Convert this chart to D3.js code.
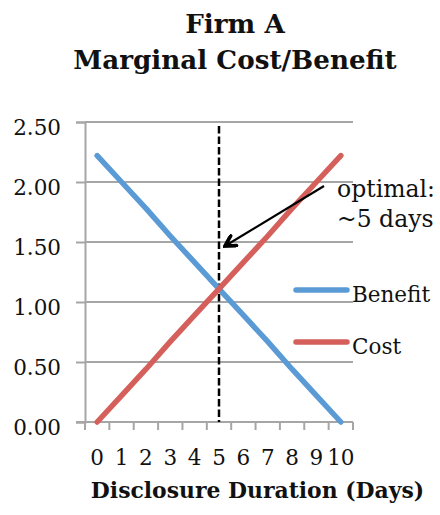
<!DOCTYPE html>
<html>
<head>
<meta charset="utf-8">
<script src="https://cdn.jsdelivr.net/npm/d3@7"></script>
<style>
  html, body { margin: 0; padding: 0; background: #fff; }
  svg { display: block; }
  text { font-family: "DejaVu Serif", "Liberation Serif", serif; fill: #111; }
</style>
</head>
<body>
<svg id="chart" width="440" height="515"></svg>
<script>
const days = ["0","1","2","3","4","5","6","7","8","9","10"];
const benefit = [2.22, 2.00, 1.78, 1.55, 1.33, 1.11, 0.89, 0.67, 0.44, 0.22, 0.00];
const cost    = [0.00, 0.22, 0.44, 0.67, 0.89, 1.11, 1.33, 1.55, 1.78, 2.00, 2.22];
const yTicks  = [0, 0.5, 1.0, 1.5, 2.0, 2.5];
const optimalDay = "5";
const titleLines = ["Firm A", "Marginal Cost/Benefit"];
const xTitle = "Disclosure Duration (Days)";
const annotation = ["optimal:", "~5 days"];
const seriesNames = ["Benefit", "Cost"];

const svg = d3.select("#chart");
const x = d3.scaleBand().domain(days).range([85, 353]);
const y = d3.scaleLinear().domain([0, 2.5]).range([422, 122]);
const gridColor = "#a6a6a6";
const colors = {Benefit: "#5b9bd5", Cost: "#d5605b"};

// title
svg.selectAll("text.title").data(titleLines).enter().append("text")
  .attr("x", 235).attr("y", (d, i) => 33 + i * 36)
  .attr("text-anchor", "middle")
  .attr("font-size", 26.2).attr("font-weight", "bold")
  .text(d => d);

// gridlines
svg.append("g").selectAll("line").data(yTicks.filter(v => v > 0)).enter().append("line")
  .attr("x1", x.range()[0]).attr("x2", x.range()[1])
  .attr("y1", d => y(d)).attr("y2", d => y(d))
  .attr("stroke", gridColor).attr("stroke-width", 2);

// y axis
const yAxis = svg.append("g").attr("transform", `translate(${x.range()[0]},0)`)
  .call(d3.axisLeft(y).tickValues(yTicks).tickFormat(d3.format(".2f")).tickSize(9).tickPadding(15));
yAxis.select(".domain").attr("stroke", gridColor).attr("stroke-width", 2);
yAxis.selectAll(".tick line").attr("stroke", gridColor).attr("stroke-width", 2);
yAxis.selectAll(".tick text").attr("font-size", 21.5).attr("font-family", "DejaVu Serif")
  .attr("fill", "#111").attr("dy", "0.6em");

// x axis
const xAxisG = svg.append("g").attr("transform", `translate(0,${y(0)})`);
xAxisG.append("line").attr("x1", x.range()[0] - 9).attr("x2", x.range()[1])
  .attr("stroke", gridColor).attr("stroke-width", 2);
const bounds = days.map(d => x(d)).concat([x(days[days.length - 1]) + x.bandwidth()]);
xAxisG.selectAll("line.tk").data(bounds).enter().append("line")
  .attr("x1", d => d).attr("x2", d => d).attr("y1", 0).attr("y2", 8)
  .attr("stroke", gridColor).attr("stroke-width", 2);
xAxisG.selectAll("text").data(days).enter().append("text")
  .attr("x", d => x(d) + x.bandwidth() / 2).attr("y", 43)
  .attr("text-anchor", "middle").attr("font-size", 21.5)
  .text(d => d);

// x title
svg.append("text").attr("x", 257.5).attr("y", 498).attr("text-anchor", "middle")
  .attr("font-size", 21.9).attr("font-weight", "bold").text(xTitle);

// optimal dashed line
const ox = x(optimalDay) + x.bandwidth() / 2;
svg.append("line").attr("x1", ox).attr("x2", ox).attr("y1", 126).attr("y2", y(0))
  .attr("stroke", "#000").attr("stroke-width", 2.5).attr("stroke-dasharray", "7.5,3");

// series lines
const line = d3.line().x((d, i) => x(days[i]) + x.bandwidth() / 2).y(d => y(d));
[["Benefit", benefit], ["Cost", cost]].forEach(([name, vals]) => {
  svg.append("path").datum(vals).attr("d", line)
    .attr("fill", "none").attr("stroke", colors[name]).attr("stroke-width", 5.5)
    .attr("stroke-linecap", "round").attr("stroke-linejoin", "round");
});

// arrow annotation
const defs = svg.append("defs");
defs.append("marker").attr("id", "arr").attr("viewBox", "0 0 10 10")
  .attr("refX", 8.5).attr("refY", 5).attr("markerWidth", 6.5).attr("markerHeight", 6.5)
  .attr("orient", "auto").attr("markerUnits", "strokeWidth")
  .append("path").attr("d", "M1.5,1 L8.5,5 L1.5,9").attr("fill", "none")
  .attr("stroke", "#000").attr("stroke-width", 2.6).attr("stroke-linecap", "round")
  .attr("stroke-linejoin", "miter");
svg.append("line").attr("x1", 324).attr("y1", 186).attr("x2", 225).attr("y2", 246)
  .attr("stroke", "#000").attr("stroke-width", 2.2).attr("marker-end", "url(#arr)");
svg.selectAll("text.ann").data(annotation).enter().append("text")
  .attr("x", 337).attr("y", (d, i) => 197 + i * 30)
  .attr("font-size", 23.5).text(d => d);

// legend
seriesNames.forEach((name, i) => {
  const ly = 290 + i * 52;
  svg.append("line").attr("x1", 296).attr("x2", 347).attr("y1", ly).attr("y2", ly)
    .attr("stroke", colors[name]).attr("stroke-width", 5.5).attr("stroke-linecap", "round");
  svg.append("text").attr("x", 352).attr("y", ly + 12).attr("font-size", 21.5).text(name);
});
</script>
</body>
</html>
